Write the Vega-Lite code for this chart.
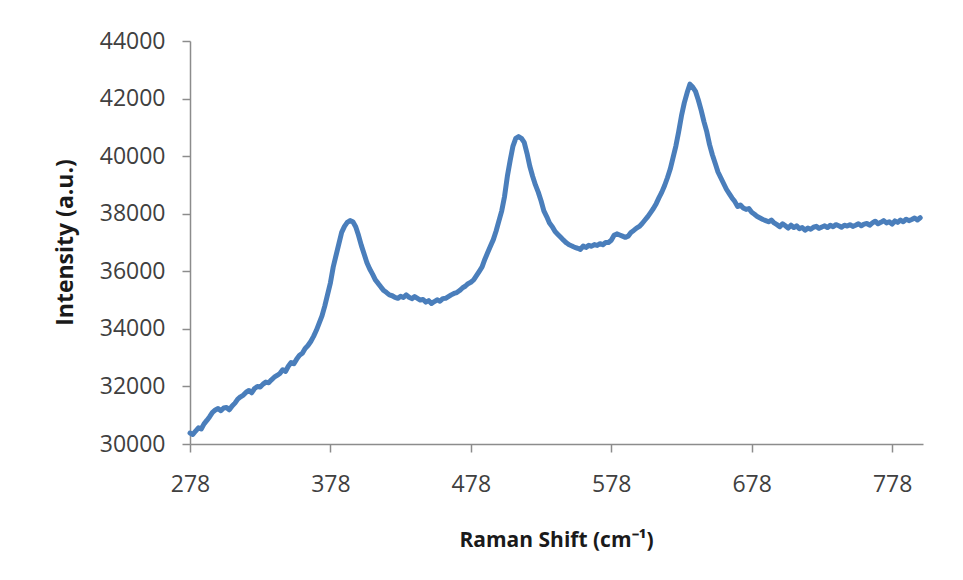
{
  "$schema": "https://vega.github.io/schema/vega-lite/v6.json",
  "width": 733,
  "height": 403,
  "autosize": {"type": "none"},
  "padding": {"left": 190, "top": 41, "right": 40, "bottom": 136},
  "background": "white",
  "config": {
    "view": {"stroke": null},
    "font": "Open Sans"
  },
  "data": {
    "values": [
      {"shift": 278, "intensity": 30380}, {"shift": 280, "intensity": 30330}, {"shift": 282, "intensity": 30450},
      {"shift": 284, "intensity": 30560}, {"shift": 286, "intensity": 30520}, {"shift": 288, "intensity": 30700},
      {"shift": 290, "intensity": 30820}, {"shift": 292, "intensity": 30950}, {"shift": 294, "intensity": 31100},
      {"shift": 296, "intensity": 31180}, {"shift": 298, "intensity": 31230}, {"shift": 300, "intensity": 31160},
      {"shift": 302, "intensity": 31250}, {"shift": 304, "intensity": 31270}, {"shift": 306, "intensity": 31190},
      {"shift": 308, "intensity": 31320}, {"shift": 310, "intensity": 31420}, {"shift": 312, "intensity": 31560},
      {"shift": 314, "intensity": 31640}, {"shift": 316, "intensity": 31700}, {"shift": 318, "intensity": 31800},
      {"shift": 320, "intensity": 31860}, {"shift": 322, "intensity": 31780}, {"shift": 324, "intensity": 31930},
      {"shift": 326, "intensity": 32000}, {"shift": 328, "intensity": 31980}, {"shift": 330, "intensity": 32080},
      {"shift": 332, "intensity": 32150}, {"shift": 334, "intensity": 32130}, {"shift": 336, "intensity": 32230},
      {"shift": 338, "intensity": 32320}, {"shift": 340, "intensity": 32380}, {"shift": 342, "intensity": 32450},
      {"shift": 344, "intensity": 32580}, {"shift": 346, "intensity": 32520}, {"shift": 348, "intensity": 32700},
      {"shift": 350, "intensity": 32830}, {"shift": 352, "intensity": 32790}, {"shift": 354, "intensity": 32950},
      {"shift": 356, "intensity": 33080}, {"shift": 358, "intensity": 33150}, {"shift": 360, "intensity": 33320},
      {"shift": 362, "intensity": 33420}, {"shift": 364, "intensity": 33560}, {"shift": 366, "intensity": 33740},
      {"shift": 368, "intensity": 33950}, {"shift": 370, "intensity": 34200}, {"shift": 372, "intensity": 34450},
      {"shift": 374, "intensity": 34800}, {"shift": 376, "intensity": 35200}, {"shift": 378, "intensity": 35600},
      {"shift": 380, "intensity": 36150}, {"shift": 382, "intensity": 36550}, {"shift": 384, "intensity": 36950},
      {"shift": 386, "intensity": 37350}, {"shift": 388, "intensity": 37560}, {"shift": 390, "intensity": 37700},
      {"shift": 392, "intensity": 37760}, {"shift": 394, "intensity": 37720}, {"shift": 396, "intensity": 37550},
      {"shift": 398, "intensity": 37250}, {"shift": 400, "intensity": 36900}, {"shift": 402, "intensity": 36600},
      {"shift": 404, "intensity": 36300}, {"shift": 406, "intensity": 36080}, {"shift": 408, "intensity": 35900},
      {"shift": 410, "intensity": 35700}, {"shift": 412, "intensity": 35580}, {"shift": 414, "intensity": 35450},
      {"shift": 416, "intensity": 35330}, {"shift": 418, "intensity": 35260}, {"shift": 420, "intensity": 35180},
      {"shift": 422, "intensity": 35150}, {"shift": 424, "intensity": 35090}, {"shift": 426, "intensity": 35060},
      {"shift": 428, "intensity": 35130}, {"shift": 430, "intensity": 35090}, {"shift": 432, "intensity": 35180},
      {"shift": 434, "intensity": 35100}, {"shift": 436, "intensity": 35050}, {"shift": 438, "intensity": 35120},
      {"shift": 440, "intensity": 35060}, {"shift": 442, "intensity": 35000}, {"shift": 444, "intensity": 35020},
      {"shift": 446, "intensity": 34930}, {"shift": 448, "intensity": 34980}, {"shift": 450, "intensity": 34880},
      {"shift": 452, "intensity": 34950}, {"shift": 454, "intensity": 35010}, {"shift": 456, "intensity": 34960},
      {"shift": 458, "intensity": 35050}, {"shift": 460, "intensity": 35060}, {"shift": 462, "intensity": 35120},
      {"shift": 464, "intensity": 35180}, {"shift": 466, "intensity": 35230}, {"shift": 468, "intensity": 35260},
      {"shift": 470, "intensity": 35330}, {"shift": 472, "intensity": 35420}, {"shift": 474, "intensity": 35480},
      {"shift": 476, "intensity": 35570}, {"shift": 478, "intensity": 35620}, {"shift": 480, "intensity": 35700},
      {"shift": 482, "intensity": 35850}, {"shift": 484, "intensity": 36000}, {"shift": 486, "intensity": 36150},
      {"shift": 488, "intensity": 36420}, {"shift": 490, "intensity": 36650}, {"shift": 492, "intensity": 36880},
      {"shift": 494, "intensity": 37100}, {"shift": 496, "intensity": 37400}, {"shift": 498, "intensity": 37750},
      {"shift": 500, "intensity": 38100}, {"shift": 502, "intensity": 38600}, {"shift": 504, "intensity": 39300},
      {"shift": 506, "intensity": 39850}, {"shift": 508, "intensity": 40350}, {"shift": 510, "intensity": 40620},
      {"shift": 512, "intensity": 40680}, {"shift": 514, "intensity": 40620}, {"shift": 516, "intensity": 40480},
      {"shift": 518, "intensity": 40100}, {"shift": 520, "intensity": 39650}, {"shift": 522, "intensity": 39300},
      {"shift": 524, "intensity": 39000}, {"shift": 526, "intensity": 38750}, {"shift": 528, "intensity": 38450},
      {"shift": 530, "intensity": 38100}, {"shift": 532, "intensity": 37900}, {"shift": 534, "intensity": 37680},
      {"shift": 536, "intensity": 37550}, {"shift": 538, "intensity": 37380}, {"shift": 540, "intensity": 37280},
      {"shift": 542, "intensity": 37180}, {"shift": 544, "intensity": 37080}, {"shift": 546, "intensity": 36990},
      {"shift": 548, "intensity": 36920}, {"shift": 550, "intensity": 36880}, {"shift": 552, "intensity": 36830},
      {"shift": 554, "intensity": 36800}, {"shift": 556, "intensity": 36760}, {"shift": 558, "intensity": 36880},
      {"shift": 560, "intensity": 36830}, {"shift": 562, "intensity": 36900}, {"shift": 564, "intensity": 36870},
      {"shift": 566, "intensity": 36930}, {"shift": 568, "intensity": 36900}, {"shift": 570, "intensity": 36960},
      {"shift": 572, "intensity": 36920}, {"shift": 574, "intensity": 37000}, {"shift": 576, "intensity": 37000},
      {"shift": 578, "intensity": 37080}, {"shift": 580, "intensity": 37250}, {"shift": 582, "intensity": 37300},
      {"shift": 584, "intensity": 37260}, {"shift": 586, "intensity": 37220}, {"shift": 588, "intensity": 37180},
      {"shift": 590, "intensity": 37220}, {"shift": 592, "intensity": 37350}, {"shift": 594, "intensity": 37420},
      {"shift": 596, "intensity": 37500}, {"shift": 598, "intensity": 37560}, {"shift": 600, "intensity": 37660},
      {"shift": 602, "intensity": 37780}, {"shift": 604, "intensity": 37900}, {"shift": 606, "intensity": 38040},
      {"shift": 608, "intensity": 38180}, {"shift": 610, "intensity": 38350}, {"shift": 612, "intensity": 38560},
      {"shift": 614, "intensity": 38750}, {"shift": 616, "intensity": 38980}, {"shift": 618, "intensity": 39250},
      {"shift": 620, "intensity": 39550}, {"shift": 622, "intensity": 39950}, {"shift": 624, "intensity": 40350},
      {"shift": 626, "intensity": 40850}, {"shift": 628, "intensity": 41400}, {"shift": 630, "intensity": 41850},
      {"shift": 632, "intensity": 42200}, {"shift": 634, "intensity": 42500}, {"shift": 636, "intensity": 42400},
      {"shift": 638, "intensity": 42250}, {"shift": 640, "intensity": 41950}, {"shift": 642, "intensity": 41600},
      {"shift": 644, "intensity": 41200}, {"shift": 646, "intensity": 40850}, {"shift": 648, "intensity": 40400},
      {"shift": 650, "intensity": 40050}, {"shift": 652, "intensity": 39750}, {"shift": 654, "intensity": 39450},
      {"shift": 656, "intensity": 39250}, {"shift": 658, "intensity": 39050}, {"shift": 660, "intensity": 38850},
      {"shift": 662, "intensity": 38700}, {"shift": 664, "intensity": 38550}, {"shift": 666, "intensity": 38420},
      {"shift": 668, "intensity": 38250}, {"shift": 670, "intensity": 38300}, {"shift": 672, "intensity": 38200},
      {"shift": 674, "intensity": 38150}, {"shift": 676, "intensity": 38180}, {"shift": 678, "intensity": 38050},
      {"shift": 680, "intensity": 37980}, {"shift": 682, "intensity": 37900}, {"shift": 684, "intensity": 37850},
      {"shift": 686, "intensity": 37800}, {"shift": 688, "intensity": 37760}, {"shift": 690, "intensity": 37720},
      {"shift": 692, "intensity": 37780}, {"shift": 694, "intensity": 37680}, {"shift": 696, "intensity": 37620},
      {"shift": 698, "intensity": 37550}, {"shift": 700, "intensity": 37650}, {"shift": 702, "intensity": 37580},
      {"shift": 704, "intensity": 37500}, {"shift": 706, "intensity": 37600}, {"shift": 708, "intensity": 37520},
      {"shift": 710, "intensity": 37580}, {"shift": 712, "intensity": 37480}, {"shift": 714, "intensity": 37520},
      {"shift": 716, "intensity": 37430}, {"shift": 718, "intensity": 37500}, {"shift": 720, "intensity": 37460},
      {"shift": 722, "intensity": 37530}, {"shift": 724, "intensity": 37560}, {"shift": 726, "intensity": 37490},
      {"shift": 728, "intensity": 37540}, {"shift": 730, "intensity": 37580}, {"shift": 732, "intensity": 37520},
      {"shift": 734, "intensity": 37600}, {"shift": 736, "intensity": 37550}, {"shift": 738, "intensity": 37620},
      {"shift": 740, "intensity": 37580}, {"shift": 742, "intensity": 37530}, {"shift": 744, "intensity": 37600},
      {"shift": 746, "intensity": 37570}, {"shift": 748, "intensity": 37620}, {"shift": 750, "intensity": 37560},
      {"shift": 752, "intensity": 37600}, {"shift": 754, "intensity": 37650}, {"shift": 756, "intensity": 37580},
      {"shift": 758, "intensity": 37640}, {"shift": 760, "intensity": 37660}, {"shift": 762, "intensity": 37600},
      {"shift": 764, "intensity": 37680}, {"shift": 766, "intensity": 37740}, {"shift": 768, "intensity": 37650},
      {"shift": 770, "intensity": 37700}, {"shift": 772, "intensity": 37760}, {"shift": 774, "intensity": 37680},
      {"shift": 776, "intensity": 37720}, {"shift": 778, "intensity": 37640}, {"shift": 780, "intensity": 37750},
      {"shift": 782, "intensity": 37700}, {"shift": 784, "intensity": 37780}, {"shift": 786, "intensity": 37720},
      {"shift": 788, "intensity": 37810}, {"shift": 790, "intensity": 37760}, {"shift": 792, "intensity": 37800},
      {"shift": 794, "intensity": 37850}, {"shift": 796, "intensity": 37780}, {"shift": 798, "intensity": 37860}
    ]
  },
  "mark": {"type": "line", "color": "#4a7ebb", "strokeWidth": 5, "strokeJoin": "round", "strokeCap": "round"},
  "encoding": {
    "x": {
      "field": "shift",
      "type": "quantitative",
      "scale": {"domain": [278, 800], "nice": false, "zero": false},
      "axis": {
        "title": "Raman Shift (cm⁻¹)",
        "values": [278, 378, 478, 578, 678, 778],
        "format": "d",
        "grid": false,
        "domainColor": "#8c8c8c",
        "domainWidth": 1.5,
        "tickColor": "#8c8c8c",
        "tickWidth": 1.5,
        "tickSize": 8,
        "labelFont": "Open Sans",
        "labelFontSize": 23,
        "labelColor": "#404040",
        "labelPadding": 21,
        "labelFlush": false,
        "titleFont": "Open Sans",
        "titleFontSize": 21,
        "titleFontWeight": "bold",
        "titleColor": "#1a1a1a",
        "titleX": 366,
        "titleY": 96,
        "titleBaseline": "middle"
      }
    },
    "y": {
      "field": "intensity",
      "type": "quantitative",
      "scale": {"domain": [30000, 44000], "nice": false, "zero": false},
      "axis": {
        "title": "Intensity (a.u.)",
        "values": [30000, 32000, 34000, 36000, 38000, 40000, 42000, 44000],
        "format": "d",
        "grid": false,
        "domainColor": "#8c8c8c",
        "domainWidth": 1.5,
        "tickColor": "#8c8c8c",
        "tickWidth": 1.5,
        "tickSize": 8,
        "labelFont": "Open Sans",
        "labelFontSize": 23,
        "labelColor": "#404040",
        "labelPadding": 17,
        "labelFlush": false,
        "titleFont": "Open Sans",
        "titleFontSize": 23,
        "titleFontWeight": "bold",
        "titleColor": "#1a1a1a",
        "titleX": -125,
        "titleY": 201,
        "titleAngle": -90,
        "titleBaseline": "middle"
      }
    }
  }
}
